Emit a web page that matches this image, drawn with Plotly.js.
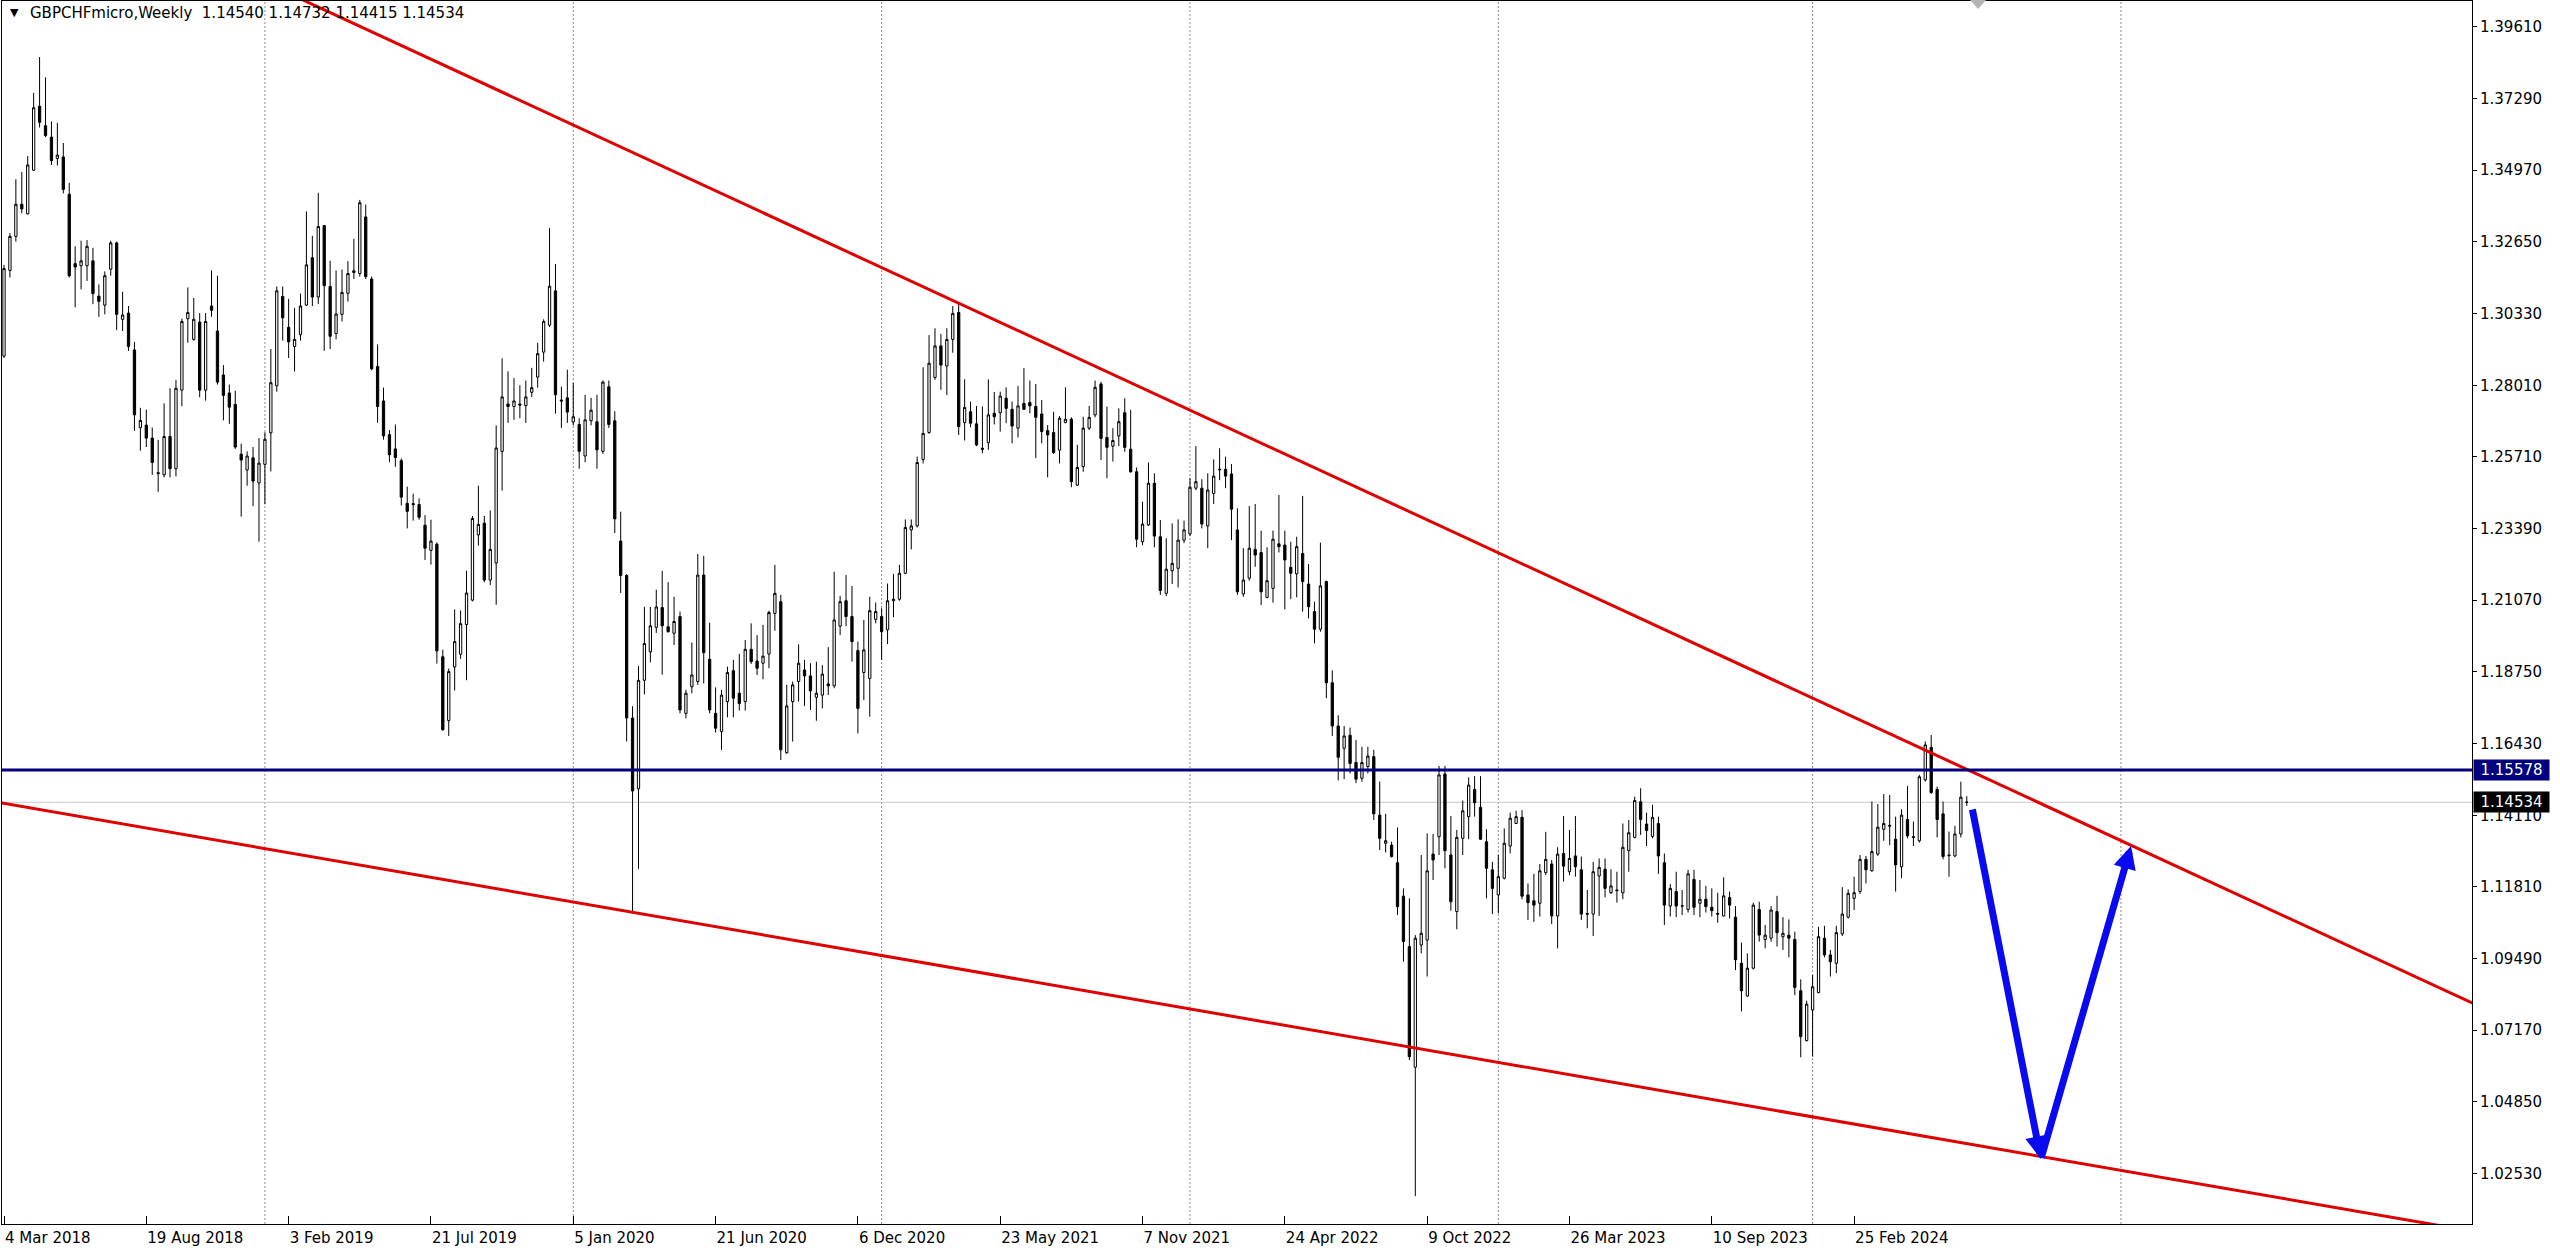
<!DOCTYPE html>
<html><head><meta charset="utf-8">
<script src="https://cdn.plot.ly/plotly-3.0.1.min.js"></script>
<style>html,body{margin:0;padding:0;background:#fff;overflow:hidden}#chart{width:2560px;height:1251px}</style>
</head><body><div id="chart"></div>
<script>
const symbolTitle = 'GBPCHFmicro,Weekly';
const lastBarText = '1.14540 1.14732 1.14415 1.14534';
const firstWeekUTC = Date.UTC(2018, 2, 4);

const opens = [1.2896,1.3173,1.3283,1.3387,1.3356,1.3497,1.3704,1.3641,1.3604,1.3535,
1.3540,1.3419,1.3195,1.3188,1.3188,1.3204,1.3090,1.3061,1.3177,1.3262,
1.3015,1.3035,1.2916,1.2665,1.2673,1.2631,1.2519,1.2512,1.2636,1.2532,
1.2786,1.3017,1.2950,1.3006,1.2786,1.3058,1.2977,1.2835,1.2777,1.2740,
1.2579,1.2528,1.2567,1.2486,1.2546,1.2648,1.2800,1.3089,1.2989,1.2927,
1.2965,1.3061,1.3214,1.3087,1.3318,1.3121,1.2969,1.3031,1.3099,1.3166,
1.3163,1.3346,1.3145,1.2863,1.2751,1.2642,1.2596,1.2558,1.2420,1.2419,
1.2416,1.2349,1.2268,1.2288,1.1924,1.1718,1.1891,1.1932,1.2028,1.2107,
1.2318,1.2356,1.2172,1.2227,1.2588,1.2741,1.2733,1.2741,1.2736,1.2779,
1.2828,1.2909,1.2996,1.3107,1.2754,1.2761,1.2683,1.2675,1.2573,1.2687,
1.2684,1.2588,1.2797,1.2687,1.2298,1.2187,1.1726,1.1497,1.1848,1.1940,
1.2019,1.2083,1.2021,1.2000,1.2054,1.1741,1.1827,1.1844,1.2188,1.1916,
1.1741,1.1682,1.1779,1.1879,1.1806,1.1779,1.1948,1.1910,1.1903,1.1933,
1.2064,1.2102,1.1614,1.1779,1.1844,1.1881,1.1862,1.1793,1.1800,1.1836,
1.1830,1.2023,1.2105,1.2054,1.1944,1.1873,1.1854,1.2045,1.2054,1.2011,
1.2105,1.2110,1.2194,1.2334,1.2347,1.2562,1.2649,1.2827,1.2929,1.2864,
1.2950,1.3037,1.2681,1.2716,1.2677,1.2598,1.2616,1.2711,1.2713,1.2760,
1.2724,1.2663,1.2743,1.2746,1.2733,1.2709,1.2655,1.2649,1.2592,1.2681,
1.2692,1.2479,1.2539,1.2663,1.2706,1.2806,1.2633,1.2605,1.2638,1.2713,
1.2595,1.2522,1.2296,1.2350,1.2485,1.2312,1.2129,1.2202,1.2210,1.2301,
1.2321,1.2469,1.2469,1.2347,1.2452,1.2528,1.2530,1.2515,1.2334,1.2127,
1.2178,1.2271,1.2261,1.2116,1.2145,1.2289,1.2285,1.2213,1.2192,1.2258,
1.2159,1.2070,1.2013,1.2167,1.1840,1.1700,1.1628,1.1670,1.1582,1.1531,
1.1569,1.1601,1.1412,1.1321,1.1315,1.1258,1.1150,1.0987,1.0597,1.0992,
1.1008,1.1286,1.1342,1.1545,1.1283,1.1100,1.1337,1.1407,1.1495,1.1437,
1.1326,1.1235,1.1154,1.1208,1.1312,1.1385,1.1405,1.1154,1.1135,1.1127,
1.1226,1.1254,1.1086,1.1288,1.1229,1.1280,1.1235,1.1094,1.1092,1.1215,
1.1237,1.1161,1.1170,1.1161,1.1297,1.1340,1.1455,1.1383,1.1343,1.1385,
1.1258,1.1118,1.1165,1.1119,1.1107,1.1204,1.1127,1.1140,1.1114,1.1094,
1.1086,1.1146,1.1082,1.0933,1.0827,1.0917,1.1107,1.1010,1.1014,1.1100,
1.1019,1.1024,1.1010,1.0844,1.0683,1.0782,1.0838,1.1014,1.0960,1.0933,
1.1028,1.1082,1.1143,1.1165,1.1269,1.1232,1.1286,1.1366,1.1379,1.1334,
1.1245,1.1398,1.1342,1.1329,1.1526,1.1631,1.1495,1.1416,1.1283,1.1280,
1.1351,1.14540];

const highs = [1.3191,1.3294,1.3468,1.3491,1.3543,1.3747,1.3863,1.3797,1.3655,1.3650,
1.3585,1.3456,1.3251,1.3269,1.3271,1.3246,1.3128,1.3170,1.3269,1.3266,
1.3104,1.3058,1.2942,1.2729,1.2723,1.2665,1.2625,1.2743,1.2792,1.2819,
1.3017,1.3118,1.3084,1.3035,1.3035,1.3173,1.3156,1.2867,1.2804,1.2784,
1.2613,1.2588,1.2602,1.2631,1.2650,1.2919,1.3121,1.3121,1.3081,1.3052,
1.3098,1.3364,1.3285,1.3424,1.3320,1.3204,1.3173,1.3176,1.3203,1.3275,
1.3401,1.3386,1.3153,1.2934,1.2794,1.2657,1.2675,1.2565,1.2474,1.2451,
1.2436,1.2382,1.2367,1.2294,1.1947,1.1886,1.2077,1.2074,1.2202,1.2379,
1.2477,1.2379,1.2397,1.2672,1.2889,1.2847,1.2825,1.2802,1.2817,1.2858,
1.2939,1.3015,1.3310,1.3194,1.2797,1.2852,1.2809,1.2695,1.2771,1.2761,
1.2771,1.2817,1.2817,1.2718,1.2393,1.2191,1.1764,1.1894,1.2085,1.2085,
1.2141,1.2202,1.2165,1.2118,1.2070,1.1817,1.1970,1.2256,1.2250,1.2034,
1.1825,1.1817,1.1892,1.1914,1.1933,1.1978,1.2032,1.1994,1.2027,1.2073,
1.2221,1.2124,1.1833,1.1844,1.1964,1.1914,1.1903,1.1908,1.1897,1.1955,
1.2199,1.2121,1.2188,1.2153,1.1973,1.2043,1.2118,1.2099,1.2081,1.2161,
1.2192,1.2221,1.2368,1.2368,1.2571,1.2860,1.2964,1.2986,1.2968,1.2986,
1.3058,1.3067,1.2821,1.2749,1.2735,1.2733,1.2821,1.2780,1.2781,1.2795,
1.2749,1.2799,1.2857,1.2817,1.2806,1.2754,1.2673,1.2716,1.2702,1.2795,
1.2698,1.2609,1.2700,1.2735,1.2817,1.2813,1.2733,1.2663,1.2727,1.2760,
1.2722,1.2536,1.2425,1.2552,1.2517,1.2366,1.2307,1.2355,1.2368,1.2364,
1.2501,1.2605,1.2498,1.2517,1.2562,1.2598,1.2571,1.2547,1.2404,1.2275,
1.2411,1.2418,1.2332,1.2278,1.2332,1.2447,1.2332,1.2296,1.2312,1.2444,
1.2224,1.2102,1.2293,1.2170,1.1880,1.1735,1.1700,1.1695,1.1655,1.1633,
1.1633,1.1623,1.1520,1.1416,1.1326,1.1372,1.1175,1.1143,1.1024,1.1283,
1.1353,1.1351,1.1571,1.1571,1.1409,1.1364,1.1459,1.1534,1.1538,1.1538,
1.1366,1.1261,1.1283,1.1369,1.1420,1.1426,1.1428,1.1191,1.1222,1.1254,
1.1358,1.1267,1.1308,1.1409,1.1364,1.1409,1.1278,1.1170,1.1261,1.1272,
1.1272,1.1237,1.1229,1.1385,1.1396,1.1472,1.1499,1.1420,1.1445,1.1407,
1.1288,1.1189,1.1229,1.1170,1.1235,1.1235,1.1202,1.1183,1.1175,1.1161,
1.1211,1.1165,1.1118,1.1000,1.0965,1.1129,1.1132,1.1057,1.1118,1.1151,
1.1082,1.1075,1.1035,1.0881,1.0812,1.0895,1.1051,1.1054,1.0976,1.1054,
1.1179,1.1172,1.1213,1.1283,1.1280,1.1456,1.1448,1.1480,1.1477,1.1407,
1.1431,1.1506,1.1391,1.1542,1.1650,1.1671,1.1504,1.1456,1.1359,1.1377,
1.1520,1.14732];

const lows = [1.2890,1.3150,1.3266,1.3358,1.3354,1.3495,1.3635,1.3604,1.3514,1.3512,
1.3422,1.3150,1.3054,1.3112,1.3139,1.3064,1.3023,1.3031,1.3156,1.2980,
1.2977,1.2913,1.2654,1.2590,1.2602,1.2512,1.2457,1.2504,1.2504,1.2507,
1.2734,1.2939,1.2946,1.2763,1.2752,1.3023,1.2804,1.2688,1.2677,1.2596,
1.2377,1.2477,1.2411,1.2296,1.2417,1.2523,1.2781,1.2946,1.2890,1.2846,
1.2946,1.3058,1.3058,1.3064,1.2913,1.2919,1.2950,1.3008,1.3072,1.3145,
1.3153,1.3145,1.2850,1.2680,1.2626,1.2553,1.2538,1.2413,1.2339,1.2364,
1.2367,1.2237,1.2222,1.1902,1.1685,1.1668,1.1815,1.1917,1.1848,1.2103,
1.2283,1.2165,1.2156,1.2092,1.2461,1.2680,1.2690,1.2695,1.2680,1.2764,
1.2794,1.2878,1.2990,1.2710,1.2664,1.2680,1.2672,1.2532,1.2553,1.2672,
1.2532,1.2580,1.2664,1.2324,1.2130,1.1650,1.1100,1.1238,1.1802,1.1906,
1.2001,1.1866,1.2002,1.1962,1.1741,1.1725,1.1806,1.1833,1.1838,1.1741,
1.1679,1.1623,1.1728,1.1728,1.1750,1.1750,1.1901,1.1865,1.1851,1.1887,
1.2008,1.1590,1.1610,1.1650,1.1779,1.1765,1.1752,1.1717,1.1757,1.1800,
1.1822,1.1994,1.2023,1.1908,1.1676,1.1784,1.1730,1.2032,1.1914,1.1965,
1.2052,1.2105,1.2192,1.2271,1.2342,1.2549,1.2645,1.2819,1.2787,1.2770,
1.2907,1.2641,1.2623,1.2666,1.2605,1.2582,1.2593,1.2675,1.2652,1.2679,
1.2614,1.2633,1.2722,1.2711,1.2566,1.2614,1.2504,1.2580,1.2549,1.2679,
1.2472,1.2476,1.2522,1.2657,1.2698,1.2560,1.2501,1.2555,1.2605,1.2587,
1.2519,1.2278,1.2285,1.2347,1.2278,1.2124,1.2120,1.2159,1.2148,1.2291,
1.2314,1.2463,1.2339,1.2275,1.2418,1.2495,1.2469,1.2301,1.2124,1.2118,
1.2170,1.2215,1.2091,1.2113,1.2099,1.2261,1.2077,1.2110,1.2116,1.2070,
1.2048,1.1967,1.2005,1.1790,1.1668,1.1524,1.1528,1.1547,1.1515,1.1520,
1.1547,1.1396,1.1299,1.1291,1.1275,1.1089,1.0938,1.0620,1.0180,1.0965,
1.0890,1.1202,1.1283,1.1240,1.1103,1.1043,1.1283,1.1334,1.1407,1.1332,
1.1143,1.1092,1.1094,1.1204,1.1288,1.1383,1.1140,1.1073,1.1067,1.1084,
1.1218,1.1060,1.0981,1.1197,1.1218,1.1213,1.1073,1.1046,1.1021,1.1086,
1.1146,1.1157,1.1129,1.1140,1.1229,1.1337,1.1348,1.1312,1.1337,1.1222,
1.1057,1.1084,1.1082,1.1089,1.1097,1.1089,1.1082,1.1097,1.1084,1.1064,
1.1084,1.1078,1.0911,1.0777,1.0825,1.0913,1.1003,1.0981,1.1003,1.0987,
1.0976,1.0952,1.0830,1.0629,1.0680,1.0631,1.0836,1.0952,1.0890,1.0901,
1.1021,1.1078,1.1105,1.1157,1.1191,1.1229,1.1280,1.1329,1.1315,1.1165,
1.1208,1.1337,1.1312,1.1323,1.1520,1.1480,1.1340,1.1269,1.1213,1.1276,
1.1340,1.14415];

const closes = [1.3179,1.3283,1.3387,1.3372,1.3514,1.3699,1.3652,1.3609,1.3528,1.3546,
1.3435,1.3156,1.3184,1.3204,1.3251,1.3098,1.3073,1.3156,1.3262,1.3031,
1.3029,1.2927,1.2706,1.2688,1.2631,1.2552,1.2516,1.2636,1.2532,1.2792,
1.3008,1.3037,1.3015,1.2786,1.3008,1.3044,1.2812,1.2769,1.2731,1.2602,
1.2560,1.2573,1.2492,1.2550,1.2627,1.2810,1.3107,1.3020,1.2942,1.2950,
1.3058,1.3191,1.3087,1.3315,1.3124,1.2960,1.3032,1.3102,1.3163,1.3172,
1.3392,1.3153,1.2855,1.2733,1.2638,1.2577,1.2568,1.2440,1.2394,1.2416,
1.2375,1.2275,1.2298,1.1943,1.1688,1.1876,1.1973,1.2031,1.2130,1.2371,
1.2352,1.2172,1.2271,1.2599,1.2764,1.2733,1.2751,1.2738,1.2764,1.2794,
1.2904,1.3008,1.3122,1.2771,1.2751,1.2715,1.2700,1.2588,1.2690,1.2721,
1.2593,1.2812,1.2675,1.2370,1.2187,1.1726,1.1490,1.1848,1.1967,1.2024,
1.2085,1.2024,1.2005,1.2038,1.1752,1.1806,1.1865,1.2188,1.1937,1.1752,
1.1693,1.1800,1.1873,1.1790,1.1773,1.1948,1.1908,1.1887,1.1926,1.2067,
1.2129,1.1623,1.1765,1.1833,1.1903,1.1862,1.1814,1.1806,1.1868,1.1830,
1.2043,1.2102,1.2054,1.1973,1.1757,1.1946,1.2073,1.2070,1.2005,1.2105,
1.2110,1.2194,1.2342,1.2347,1.2552,1.2646,1.2873,1.2929,1.2867,1.2950,
1.3034,1.2668,1.2730,1.2679,1.2609,1.2595,1.2706,1.2700,1.2767,1.2727,
1.2670,1.2735,1.2724,1.2735,1.2698,1.2652,1.2641,1.2584,1.2695,1.2692,
1.2490,1.2536,1.2663,1.2698,1.2795,1.2630,1.2601,1.2623,1.2684,1.2601,
1.2522,1.2304,1.2353,1.2485,1.2314,1.2138,1.2207,1.2226,1.2301,1.2334,
1.2472,1.2490,1.2353,1.2463,1.2508,1.2530,1.2508,1.2401,1.2134,1.2172,
1.2275,1.2253,1.2134,1.2170,1.2304,1.2280,1.2237,1.2194,1.2280,1.2167,
1.2086,1.2013,1.2153,1.1840,1.1700,1.1599,1.1668,1.1579,1.1528,1.1582,
1.1603,1.1416,1.1337,1.1329,1.1278,1.1116,1.1003,1.0631,1.1014,1.1030,
1.1232,1.1267,1.1542,1.1297,1.1132,1.1340,1.1426,1.1509,1.1452,1.1334,
1.1240,1.1175,1.1213,1.1321,1.1402,1.1407,1.1150,1.1129,1.1121,1.1232,
1.1269,1.1086,1.1286,1.1247,1.1272,1.1245,1.1092,1.1092,1.1229,1.1243,
1.1175,1.1183,1.1168,1.1308,1.1355,1.1459,1.1398,1.1362,1.1405,1.1280,
1.1121,1.1175,1.1118,1.1118,1.1222,1.1114,1.1140,1.1116,1.1103,1.1092,
1.1151,1.1121,1.0944,1.0844,1.0917,1.1121,1.1024,1.1024,1.1105,1.1032,
1.1030,1.1014,1.0855,1.0696,1.0801,1.0857,1.1019,1.0960,1.0938,1.1032,
1.1092,1.1159,1.1161,1.1269,1.1235,1.1294,1.1373,1.1385,1.1377,1.1251,
1.1412,1.1345,1.1340,1.1536,1.1639,1.1485,1.1398,1.1278,1.1281,1.1351,
1.1470,1.14534];

const timeTickWeeks = [0,24,48,72,96,120,144,168,192,216,240,264,288,312];
const timeTickLabels = ['4 Mar 2018','19 Aug 2018','3 Feb 2019','21 Jul 2019','5 Jan 2020','21 Jun 2020','6 Dec 2020','23 May 2021','7 Nov 2021','24 Apr 2022','9 Oct 2022','26 Mar 2023','10 Sep 2023','25 Feb 2024'];
const yearStartWeeks = [44,96,148,200,252,305,357];
const priceTicks = [1.39610,1.37290,1.34970,1.32650,1.30330,1.28010,1.25710,1.23390,1.21070,1.18750,1.16430,1.14110,1.11810,1.09490,1.07170,1.04850,1.02530];
const levelPrice = 1.15578;
const bidPrice = 1.14534;
// trend line anchors: [week index, price]
const upperTrendAnchors = [[161, 1.3067], [324, 1.1622]];
const lowerTrendAnchors = [[0, 1.1450], [238, 1.0659]];
// forecast arrows: [week index, price]
const arrowPath = [[331.9, 1.1435], [343.5, 1.0300], [358.7, 1.1312]];
// chart-shift marker week index
const shiftMarkerWeek = 332.9;

function weekDate(k) {
  return new Date(firstWeekUTC + k * 7 * 864e5).toISOString().slice(0, 19).replace('T', ' ');
}
function lineAt(anchors, k) {
  const [a, b] = anchors;
  return a[1] + (b[1] - a[1]) * (k - a[0]) / (b[0] - a[0]);
}

const dates = opens.map((_, i) => weekDate(i));
const FONT = 'DejaVu Sans';

const traces = [
  {
    type: 'candlestick', x: dates, open: opens, high: highs, low: lows, close: closes,
    increasing: {line: {color: '#000', width: 1}, fillcolor: '#fff'},
    decreasing: {line: {color: '#000', width: 1}, fillcolor: '#000'},
    whiskerwidth: 0, hoverinfo: 'skip', showlegend: false
  },
  {
    type: 'scatter', mode: 'lines', hoverinfo: 'skip', showlegend: false,
    x: [weekDate(40), weekDate(430)], y: [lineAt(upperTrendAnchors, 40), lineAt(upperTrendAnchors, 430)],
    line: {color: '#e00000', width: 3}
  },
  {
    type: 'scatter', mode: 'lines', hoverinfo: 'skip', showlegend: false,
    x: [weekDate(-5), weekDate(430)], y: [lineAt(lowerTrendAnchors, -5), lineAt(lowerTrendAnchors, 430)],
    line: {color: '#e00000', width: 3}
  }
];

const shapes = yearStartWeeks.map(k => ({
  type: 'line', xref: 'x', yref: 'paper', x0: weekDate(k), x1: weekDate(k), y0: 0, y1: 1,
  line: {color: '#8a8a8a', width: 1, dash: '2px,2px'}, layer: 'below'
}));
shapes.push({type: 'line', xref: 'paper', yref: 'y', x0: 0, x1: 1, y0: bidPrice, y1: bidPrice,
  line: {color: '#c8c8c8', width: 1}, layer: 'below'});
shapes.push({type: 'line', xref: 'paper', yref: 'y', x0: 0, x1: 1, y0: levelPrice, y1: levelPrice,
  line: {color: '#000080', width: 3}, layer: 'above'});
// chart-shift marker: small grey downward triangle at the top edge
shapes.push({type: 'path', xref: 'x', yref: 'paper', xsizemode: 'pixel', ysizemode: 'pixel',
  xanchor: weekDate(shiftMarkerWeek), yanchor: 1, path: 'M-8,1 L8,1 L0,-8 Z',
  fillcolor: '#b4b4b4', line: {width: 0}, layer: 'above'});

const annotations = [
  {xref: 'paper', yref: 'paper', x: 0.0024, y: 0.9902, xanchor: 'left', yanchor: 'middle', showarrow: false,
   text: '▼', font: {family: FONT, size: 11, color: '#000'}},
  {xref: 'paper', yref: 'paper', x: 0.0105, y: 0.9902, xanchor: 'left', yanchor: 'middle', showarrow: false,
   text: symbolTitle + '&nbsp;&nbsp;' + lastBarText, font: {family: FONT, size: 15, color: '#000'}},
  {xref: 'paper', yref: 'y', x: 1, y: levelPrice, xanchor: 'left', yanchor: 'middle', xshift: 1, showarrow: false,
   text: levelPrice.toFixed(5), bgcolor: '#000080', font: {family: FONT, size: 15, color: '#fff'},
   width: 73, height: 18, borderpad: 1, align: 'center'},
  {xref: 'paper', yref: 'y', x: 1, y: bidPrice, xanchor: 'left', yanchor: 'middle', xshift: 1, showarrow: false,
   text: bidPrice.toFixed(5), bgcolor: '#000000', font: {family: FONT, size: 15, color: '#fff'},
   width: 73, height: 18, borderpad: 1, align: 'center'}
];
for (let i = 0; i < arrowPath.length - 1; i++) {
  const [k0, p0] = arrowPath[i];
  const [k1, p1] = arrowPath[i + 1];
  annotations.push({
    xref: 'x', yref: 'y', axref: 'x', ayref: 'y',
    x: weekDate(k1), y: p1, ax: weekDate(k0), ay: p0,
    text: '', showarrow: true, arrowhead: 2, arrowsize: 0.65, arrowwidth: 7,
    arrowcolor: '#0a0af0', standoff: 0, startstandoff: 0
  });
}

const layout = {
  width: 2560, height: 1251,
  margin: {l: 2, r: 88, t: 1, b: 27, pad: 0},
  paper_bgcolor: '#fff', plot_bgcolor: '#fff',
  showlegend: false, hovermode: false, dragmode: false,
  font: {family: FONT, size: 15, color: '#000'},
  boxgap: 0.45,
  xaxis: {
    type: 'date', range: [weekDate(-0.337), weekDate(416.2)],
    tickvals: timeTickWeeks.map(weekDate), ticktext: timeTickLabels,
    ticklabelposition: 'outside right', ticks: 'inside', ticklen: 8, tickcolor: '#000', tickwidth: 1,
    tickfont: {family: FONT, size: 15, color: '#000'},
    showline: true, linecolor: '#000', linewidth: 1, mirror: true,
    showgrid: false, zeroline: false, rangeslider: {visible: false}, fixedrange: true
  },
  yaxis: {
    side: 'right', range: [1.00900, 1.40441],
    tickvals: priceTicks, ticktext: priceTicks.map(v => v.toFixed(5)),
    ticks: 'outside', ticklen: 4, tickcolor: '#000', tickwidth: 1,
    tickfont: {family: FONT, size: 15, color: '#000'},
    showline: true, linecolor: '#000', linewidth: 1, mirror: true,
    showgrid: false, zeroline: false, fixedrange: true
  },
  shapes: shapes,
  annotations: annotations
};

Plotly.newPlot('chart', traces, layout, {displayModeBar: false, staticPlot: true});
</script>
</body></html>
